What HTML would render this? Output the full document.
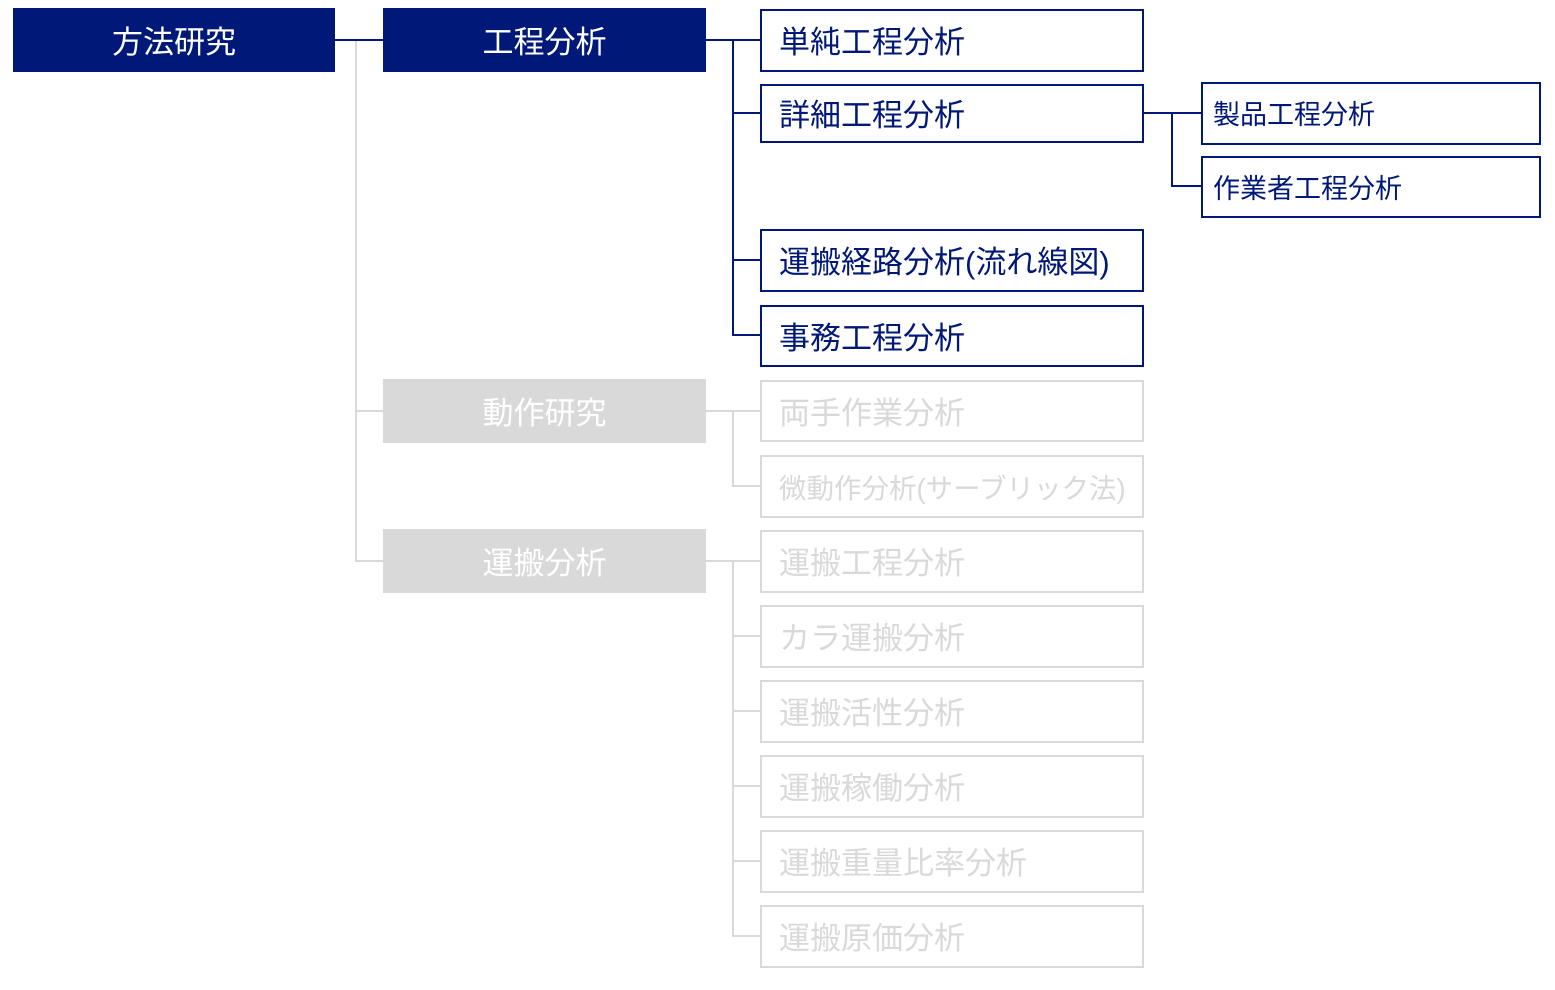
<!DOCTYPE html>
<html><head><meta charset="utf-8"><style>
body{margin:0;width:1555px;height:990px;background:#fff;position:relative;overflow:hidden;font-family:"Liberation Sans","Noto Sans CJK JP",sans-serif}
.b{position:absolute;box-sizing:border-box;display:flex;align-items:center;white-space:nowrap;padding-bottom:2px}
.f{background:#001878;color:#fff;justify-content:center;font-size:31px}
.g{background:#d9d9d9;color:#fff;justify-content:center;font-size:31px}
.n{border:2px solid #001878;color:#001878;padding-left:17px;font-size:31px}
.l{border:2px solid #d9d9d9;color:#d9d9d9;padding-left:17px;font-size:31px}
.s{font-size:27px;padding-left:10px}
.h,.v{position:absolute;background:#001878}
.h{height:2px}.v{width:2px}
.gr{background:#d9d9d9}
</style></head><body>
<div class="b f" style="left:13px;top:8px;width:322px;height:64px">方法研究</div>
<div class="b f" style="left:383px;top:8px;width:323px;height:64px">工程分析</div>
<div class="b g" style="left:383px;top:379px;width:323px;height:64px">動作研究</div>
<div class="b g" style="left:383px;top:529px;width:323px;height:64px">運搬分析</div>

<div class="h" style="left:334px;top:39px;width:50px"></div>
<div class="v gr" style="left:355px;top:41px;height:521px"></div>
<div class="h gr" style="left:355px;top:410px;width:28px"></div>
<div class="h gr" style="left:355px;top:560px;width:28px"></div>

<div class="h" style="left:705px;top:39px;width:55px"></div>
<div class="v" style="left:732px;top:39px;height:297px"></div>
<div class="h" style="left:732px;top:112px;width:28px"></div>
<div class="h" style="left:732px;top:259px;width:28px"></div>
<div class="h" style="left:732px;top:334px;width:28px"></div>

<div class="h gr" style="left:705px;top:410px;width:55px"></div>
<div class="v gr" style="left:732px;top:410px;height:77px"></div>
<div class="h gr" style="left:732px;top:485px;width:28px"></div>

<div class="h gr" style="left:705px;top:560px;width:55px"></div>
<div class="v gr" style="left:732px;top:560px;height:377px"></div>
<div class="h gr" style="left:732px;top:635px;width:28px"></div>
<div class="h gr" style="left:732px;top:710px;width:28px"></div>
<div class="h gr" style="left:732px;top:785px;width:28px"></div>
<div class="h gr" style="left:732px;top:860px;width:28px"></div>
<div class="h gr" style="left:732px;top:935px;width:28px"></div>

<div class="b n" style="left:760px;top:9px;width:384px;height:63px">単純工程分析</div>
<div class="b n" style="left:760px;top:84px;width:384px;height:59px">詳細工程分析</div>
<div class="b n" style="left:760px;top:229px;width:384px;height:63px">運搬経路分析(流れ線図)</div>
<div class="b n" style="left:760px;top:305px;width:384px;height:62px">事務工程分析</div>
<div class="b l" style="left:760px;top:380px;width:384px;height:62px">両手作業分析</div>
<div class="b l" style="left:760px;top:455px;width:384px;height:63px;font-size:27.5px">微動作分析(サーブリック法)</div>
<div class="b l" style="left:760px;top:530px;width:384px;height:63px">運搬工程分析</div>
<div class="b l" style="left:760px;top:605px;width:384px;height:63px">カラ運搬分析</div>
<div class="b l" style="left:760px;top:680px;width:384px;height:63px">運搬活性分析</div>
<div class="b l" style="left:760px;top:755px;width:384px;height:63px">運搬稼働分析</div>
<div class="b l" style="left:760px;top:830px;width:384px;height:63px">運搬重量比率分析</div>
<div class="b l" style="left:760px;top:905px;width:384px;height:63px">運搬原価分析</div>

<div class="h" style="left:1143px;top:112px;width:58px"></div>
<div class="v" style="left:1171px;top:112px;height:75px"></div>
<div class="h" style="left:1171px;top:185px;width:30px"></div>
<div class="b n s" style="left:1201px;top:82px;width:340px;height:63px">製品工程分析</div>
<div class="b n s" style="left:1201px;top:156px;width:340px;height:62px">作業者工程分析</div>
</body></html>
